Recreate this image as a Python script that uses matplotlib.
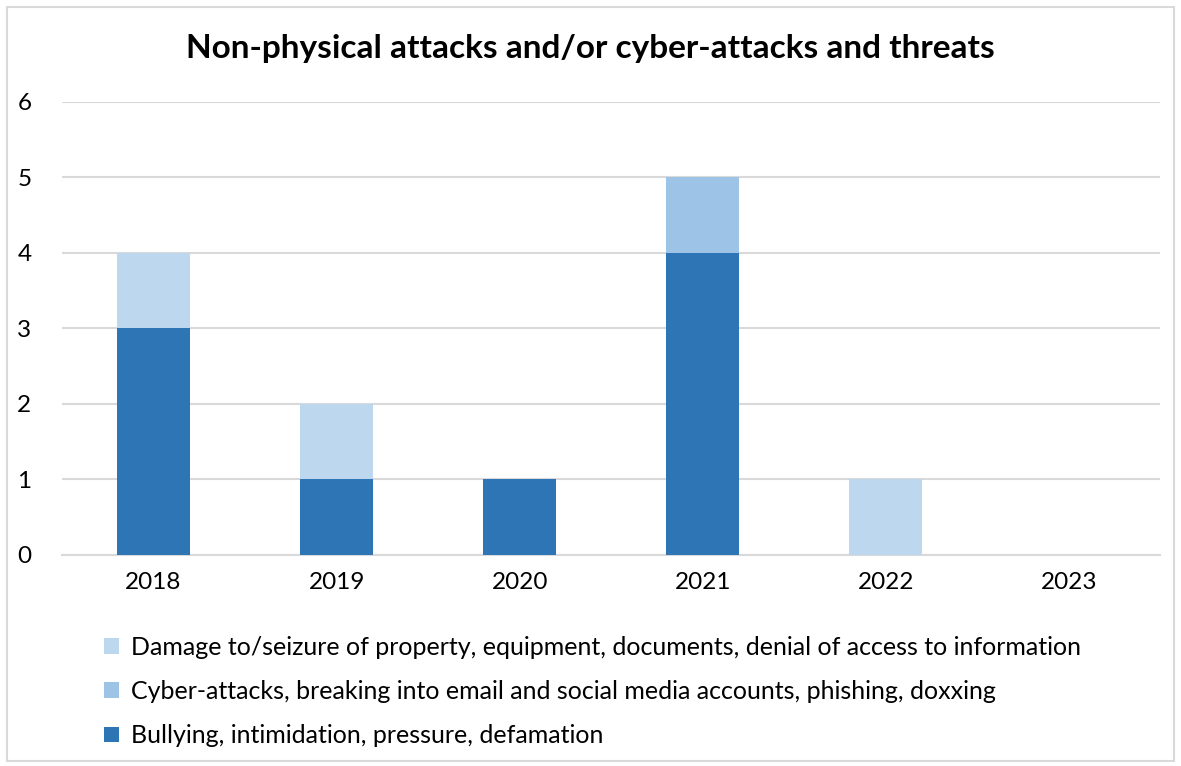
import matplotlib.pyplot as plt
from matplotlib.patches import Rectangle
import numpy as np

# %% Data
years = ['2018', '2019', '2020', '2021', '2022', '2023']
bullying = [3, 1, 1, 4, 0, 0]
cyber = [0, 0, 0, 1, 0, 0]
damage = [1, 1, 0, 0, 1, 0]

lbl_bullying = 'Bullying, intimidation, pressure, defamation'
lbl_cyber = 'Cyber-attacks, breaking into email and social media accounts, phishing, doxxing'
lbl_damage = 'Damage to/seizure of property, equipment, documents, denial of access to information'

col_bullying = '#2E75B6'
col_cyber = '#9DC3E6'
col_damage = '#BDD7EE'

plt.rcParams['font.family'] = ['Lato', 'DejaVu Sans']

# %% Plot
fig = plt.figure(figsize=(11.81, 7.66), dpi=100)
ax = fig.add_axes([0.0525, 0.2755, 0.93, 0.5915])

x = np.arange(len(years))
w = 0.4
b1 = np.array(bullying)
b2 = b1 + np.array(cyber)
ax.bar(x, bullying, w, color=col_bullying, label=lbl_bullying, zorder=3)
ax.bar(x, cyber, w, bottom=b1, color=col_cyber, label=lbl_cyber, zorder=3)
ax.bar(x, damage, w, bottom=b2, color=col_damage, label=lbl_damage, zorder=3)

ax.set_xlim(-0.5, len(years) - 0.5)
ax.set_ylim(0, 6)
ax.set_xticks(x)
ax.set_xticklabels(years)
ax.set_yticks(range(7))
ax.grid(axis='y', color='#D9D9D9', linewidth=1.5, zorder=0)
for s in ['top', 'right', 'left']:
    ax.spines[s].set_visible(False)
ax.spines['bottom'].set_color('#D9D9D9')
ax.spines['bottom'].set_linewidth(1.5)
ax.tick_params(axis='both', length=0, labelsize=17.5, colors='black')
ax.tick_params(axis='x', pad=12)
ax.tick_params(axis='y', pad=22)

fig.suptitle('Non-physical attacks and/or cyber-attacks and threats',
             fontsize=24, fontweight='bold', y=0.955)

handles, labels = ax.get_legend_handles_labels()
fig.legend(handles[::-1], labels[::-1], loc='upper left', bbox_to_anchor=(0.08, 0.183),
           frameon=False, fontsize=18, handlelength=0.6, handleheight=0.6,
           handletextpad=0.45, labelspacing=0.85, borderaxespad=0)

fig.patches.append(Rectangle((0.006, 0.006), 0.988, 0.985, transform=fig.transFigure,
                             fill=False, edgecolor='#D9D9D9', linewidth=1.5))

plt.savefig('out.png', dpi=100)
